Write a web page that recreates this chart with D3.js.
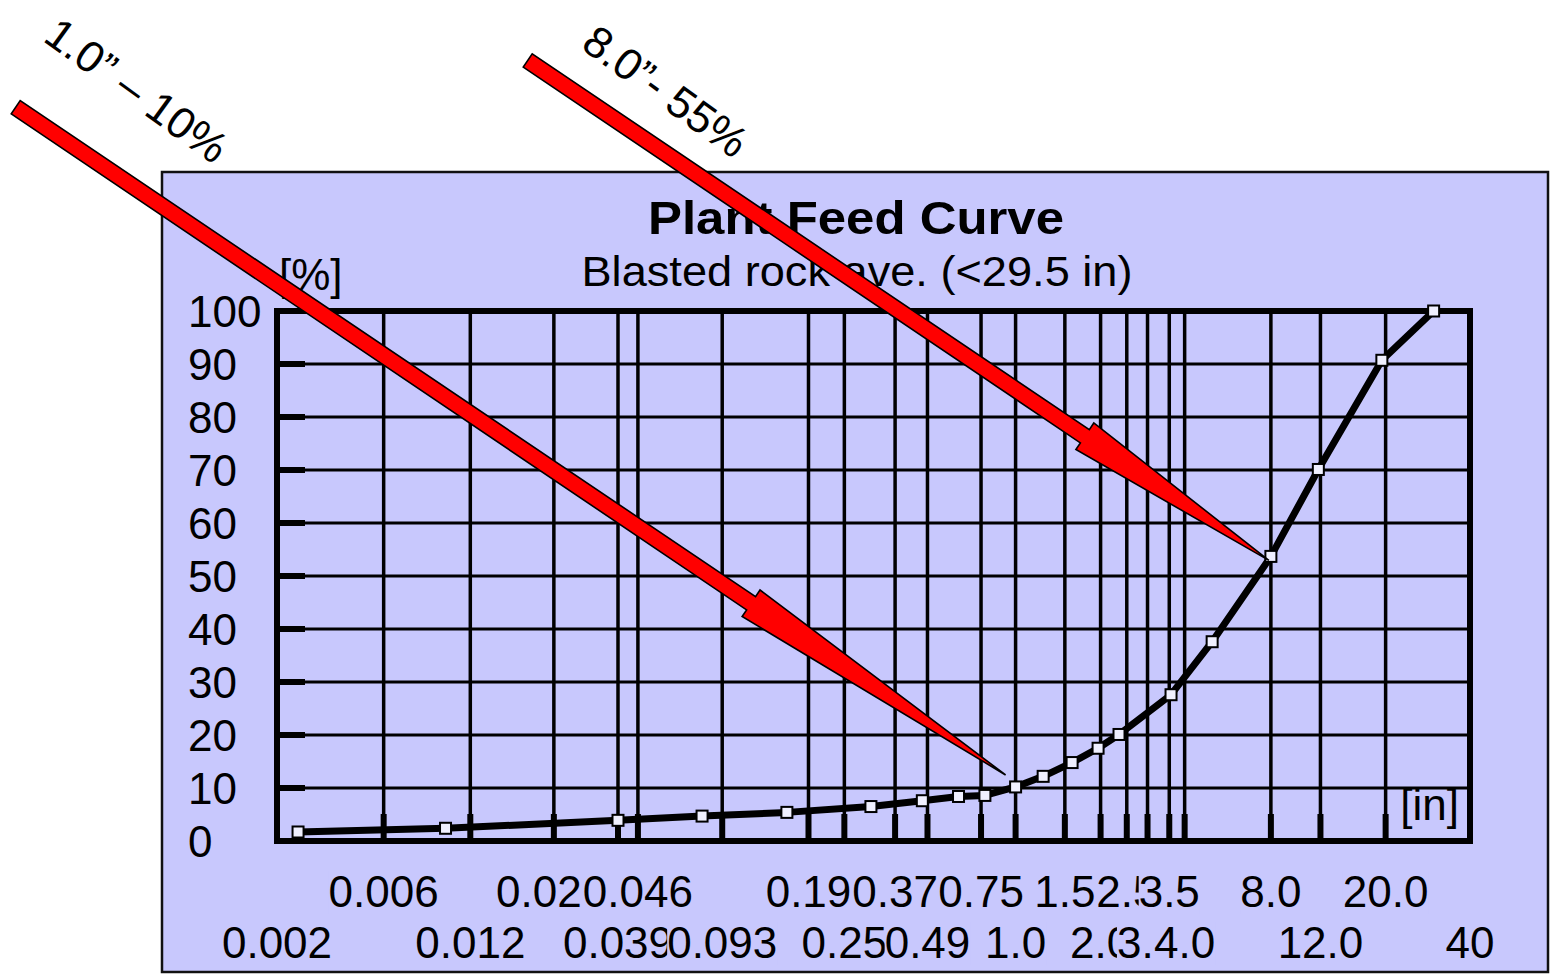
<!DOCTYPE html>
<html>
<head>
<meta charset="utf-8">
<script src="https://cdn.jsdelivr.net/npm/d3@7"></script>
<style>
  html, body { margin: 0; padding: 0; background: #ffffff; }
  svg { display: block; }
  text { font-family: "Liberation Sans", Arial, sans-serif; fill: #000; }
</style>
</head>
<body>
<svg id="chart" width="1552" height="974"></svg>
<script>
// ---- data ----
const sizes   = [0.003, 0.0099, 0.040, 0.079, 0.157, 0.31, 0.47, 0.63, 0.78, 1.0, 1.25, 1.58, 1.95, 2.31, 3.52, 4.91, 7.9, 11.6, 19.4, 29.5];
const passing = [1.7, 2.4, 3.9, 4.7, 5.4, 6.5, 7.6, 8.4, 8.6, 10.2, 12.2, 14.8, 17.5, 20.1, 27.6, 37.6, 53.7, 70.1, 90.7, 100];

const xTickValues = [0.00253, 0.006, 0.0121, 0.0238, 0.040, 0.047, 0.093, 0.187, 0.25, 0.377, 0.49, 0.756, 1.0, 1.49, 1.99, 2.46, 2.91, 3.47, 3.93, 7.9, 11.8, 20.0, 39.6];
const xTickLabels = ["0.002", "0.006", "0.012", "0.02", "0.039", "0.046", "0.093", "0.19", "0.25", "0.37", "0.49", "0.75", "1.0", "1.5", "2.0", "2.5", "3.0", "3.5", "4.0", "8.0", "12.0", "20.0", "40"];
const yTickValues = [0, 10, 20, 30, 40, 50, 60, 70, 80, 90, 100];

const titleText = "Plant Feed Curve";
const subtitleText = "Blasted rock ave. (<29.5 in)";
const annotations = [
  { size: 1.0, pct: 10.2, label: "1.0\u201D \u2013 10%", tipOffset: [-10, -12], length: 1194, head: 307, textPos: [137, 90] },
  { size: 7.9, pct: 53.7, label: "8.0\u201D- 55%", tipOffset: [-2, 4], length: 894, head: 222, textPos: [666, 91] }
];

// ---- layout ----
const panelColor = "#c8c8fd";
const labelShift = { "0.02": -15 };
const svg = d3.select("#chart");
const L = 277, R = 1470, T = 311, B = 841;

const x = d3.scaleLog().domain([0.00253, 39.6]).range([L, R]);
const y = d3.scaleLinear().domain([0, 100]).range([B, T]);

// panel
svg.append("rect").attr("x", 162).attr("y", 172).attr("width", 1386).attr("height", 800)
  .attr("fill", panelColor).attr("stroke", "#111").attr("stroke-width", 2.5);

// titles
svg.append("text").attr("x", 856).attr("y", 234).attr("text-anchor", "middle")
  .attr("font-size", 47).attr("font-weight", "bold")
  .attr("textLength", 416).attr("lengthAdjust", "spacingAndGlyphs").text(titleText);
svg.append("text").attr("x", 857).attr("y", 286).attr("text-anchor", "middle")
  .attr("font-size", 43)
  .attr("textLength", 551).attr("lengthAdjust", "spacingAndGlyphs").text(subtitleText);

// unit labels
svg.append("text").attr("x", 279).attr("y", 290).attr("font-size", 44).text("[%]");
svg.append("text").attr("x", 1459).attr("y", 820).attr("text-anchor", "end").attr("font-size", 44).text("[in]");

const g = svg.append("g");
const hTicks = yTickValues.filter(v => v > 0 && v < 100);
const innerX = xTickValues.slice(1, -1);

// horizontal grid
g.selectAll("line.hg").data(hTicks).enter().append("line")
  .attr("x1", L).attr("x2", R).attr("y1", d => y(d)).attr("y2", d => y(d))
  .attr("stroke", "#000").attr("stroke-width", 3.2);
// vertical grid
g.selectAll("line.vg").data(innerX).enter().append("line")
  .attr("x1", d => x(d)).attr("x2", d => x(d)).attr("y1", T).attr("y2", B)
  .attr("stroke", "#000").attr("stroke-width", 3.5);
// left tick stubs
g.selectAll("line.lt").data(hTicks).enter().append("line")
  .attr("x1", L).attr("x2", L + 28).attr("y1", d => y(d)).attr("y2", d => y(d))
  .attr("stroke", "#000").attr("stroke-width", 6);
// bottom tick stubs
g.selectAll("line.bt").data(innerX).enter().append("line")
  .attr("x1", d => x(d)).attr("x2", d => x(d)).attr("y1", B).attr("y2", B - 27)
  .attr("stroke", "#000").attr("stroke-width", 6);
// plot frame
g.append("rect").attr("x", L).attr("y", T).attr("width", R - L).attr("height", B - T)
  .attr("fill", "none").attr("stroke", "#000").attr("stroke-width", 6);

// y labels
g.selectAll("text.yl").data(yTickValues).enter().append("text")
  .attr("x", 188).attr("y", d => y(d)).attr("dy", "0.358em")
  .attr("font-size", 44).text(d => d);

// x labels, alternating rows, each with an opaque background
xTickValues.forEach((v, i) => {
  const gy = (i % 2 === 0) ? 958 : 907;
  const lab = xTickLabels[i];
  const lg = g.append("g");
  const bg = lg.append("rect").attr("fill", panelColor);
  const t = lg.append("text").attr("x", x(v) + (labelShift[lab] || 0)).attr("y", gy)
    .attr("text-anchor", "middle").attr("font-size", 44).text(lab);
  const bb = t.node().getBBox();
  bg.attr("x", bb.x).attr("y", bb.y + 4).attr("width", bb.width).attr("height", bb.height - 6);
});

// curve
const pts = sizes.map((s, i) => [s, passing[i]]);
g.append("path").datum(pts)
  .attr("d", d3.line().x(d => x(d[0])).y(d => y(d[1])))
  .attr("fill", "none").attr("stroke", "#000").attr("stroke-width", 7).attr("stroke-linejoin", "round");
g.selectAll("rect.mk").data(pts).enter().append("rect")
  .attr("x", d => x(d[0]) - 5.5).attr("y", d => y(d[1]) - 5.5).attr("width", 11).attr("height", 11)
  .attr("fill", "#f0f0ff").attr("stroke", "#000").attr("stroke-width", 2);

// arrows + annotation text
const angle = 34 * Math.PI / 180;
const ux = Math.cos(angle), uy = Math.sin(angle), nx = -uy, ny = ux;
const sh = 8, hh = 16;
annotations.forEach(a => {
  const tip = [x(a.size) + a.tipOffset[0], y(a.pct) + a.tipOffset[1]];
  const tail = [tip[0] - ux * a.length, tip[1] - uy * a.length];
  const base = [tip[0] - ux * a.head, tip[1] - uy * a.head];
  const poly = [
    [tail[0] + nx * sh, tail[1] + ny * sh],
    [base[0] + nx * sh, base[1] + ny * sh],
    [base[0] + nx * hh, base[1] + ny * hh],
    tip,
    [base[0] - nx * hh, base[1] - ny * hh],
    [base[0] - nx * sh, base[1] - ny * sh],
    [tail[0] - nx * sh, tail[1] - ny * sh]
  ];
  svg.append("polygon").attr("points", poly.map(p => p.join(",")).join(" "))
    .attr("fill", "#ff0000").attr("stroke", "#000").attr("stroke-width", 1.6).attr("stroke-linejoin", "miter");
  svg.append("text").attr("transform", `translate(${a.textPos[0]},${a.textPos[1]}) rotate(36)`)
    .attr("text-anchor", "middle").attr("dy", "0.358em").attr("font-size", 44).text(a.label);
});
</script>
</body>
</html>
